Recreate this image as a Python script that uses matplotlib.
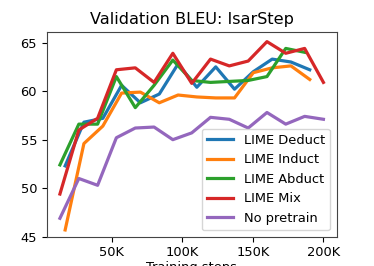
import matplotlib
matplotlib.use("Agg")
import matplotlib.pyplot as plt

# training steps (thousands)
steps_a = [13.3, 26.7, 40.0, 53.3, 66.7, 80.0, 93.3, 106.7, 120.0, 133.3, 146.7, 160.0, 173.3, 186.7, 200.0]
steps_b = [17.0, 30.3, 43.7, 57.0, 70.3, 83.7, 97.0, 110.3, 123.7, 137.0, 150.3, 163.7, 177.0, 190.3]

deduct = [52.3, 56.8, 57.2, 60.6, 58.8, 59.7, 62.8, 60.4, 62.5, 60.2, 62.0, 63.3, 63.0, 62.2]
induct = [45.7, 54.6, 56.4, 59.8, 59.9, 58.8, 59.6, 59.4, 59.3, 59.3, 61.9, 62.4, 62.6, 61.2]
abduct = [52.4, 56.6, 56.6, 61.5, 58.3, 60.6, 63.2, 61.1, 60.9, 61.0, 61.1, 61.5, 64.4, 64.0]
mix = [49.4, 56.0, 57.2, 62.2, 62.4, 60.9, 63.9, 60.8, 63.3, 62.6, 63.1, 65.1, 63.9, 64.4, 60.9]
nopre = [46.9, 51.0, 50.3, 55.2, 56.2, 56.3, 55.0, 55.7, 57.3, 57.1, 56.2, 57.8, 56.6, 57.4, 57.1]

xticks = [50, 100, 150, 200]
xticklabels = ["50K", "100K", "150K", "200K"]

fig = plt.figure(figsize=(3.74, 2.66), dpi=100)
ax = fig.add_subplot(111)
lw = 2.3
ax.plot(steps_b, deduct, color="tab:blue", lw=lw, label="LIME Deduct")
ax.plot(steps_b, induct, color="tab:orange", lw=lw, label="LIME Induct")
ax.plot(steps_a[:14], abduct, color="tab:green", lw=lw, label="LIME Abduct")
ax.plot(steps_a, mix, color="tab:red", lw=lw, label="LIME Mix")
ax.plot(steps_a, nopre, color="tab:purple", lw=lw, label="No pretrain")

ax.set_ylim(45, 66.1)
ax.set_yticks([45, 50, 55, 60, 65])
ax.set_xticks(xticks)
ax.set_xticklabels(xticklabels)
ax.tick_params(labelsize=9.4)
for s in ax.spines.values():
    s.set_color("#444444")
ax.set_xlabel("Training steps", fontsize=9.4, labelpad=1)
ax.set_title("Validation BLEU: IsarStep", fontsize=11.6)
ax.legend(loc="lower right", fontsize=9.4)

plt.savefig("out.png", dpi=100)
